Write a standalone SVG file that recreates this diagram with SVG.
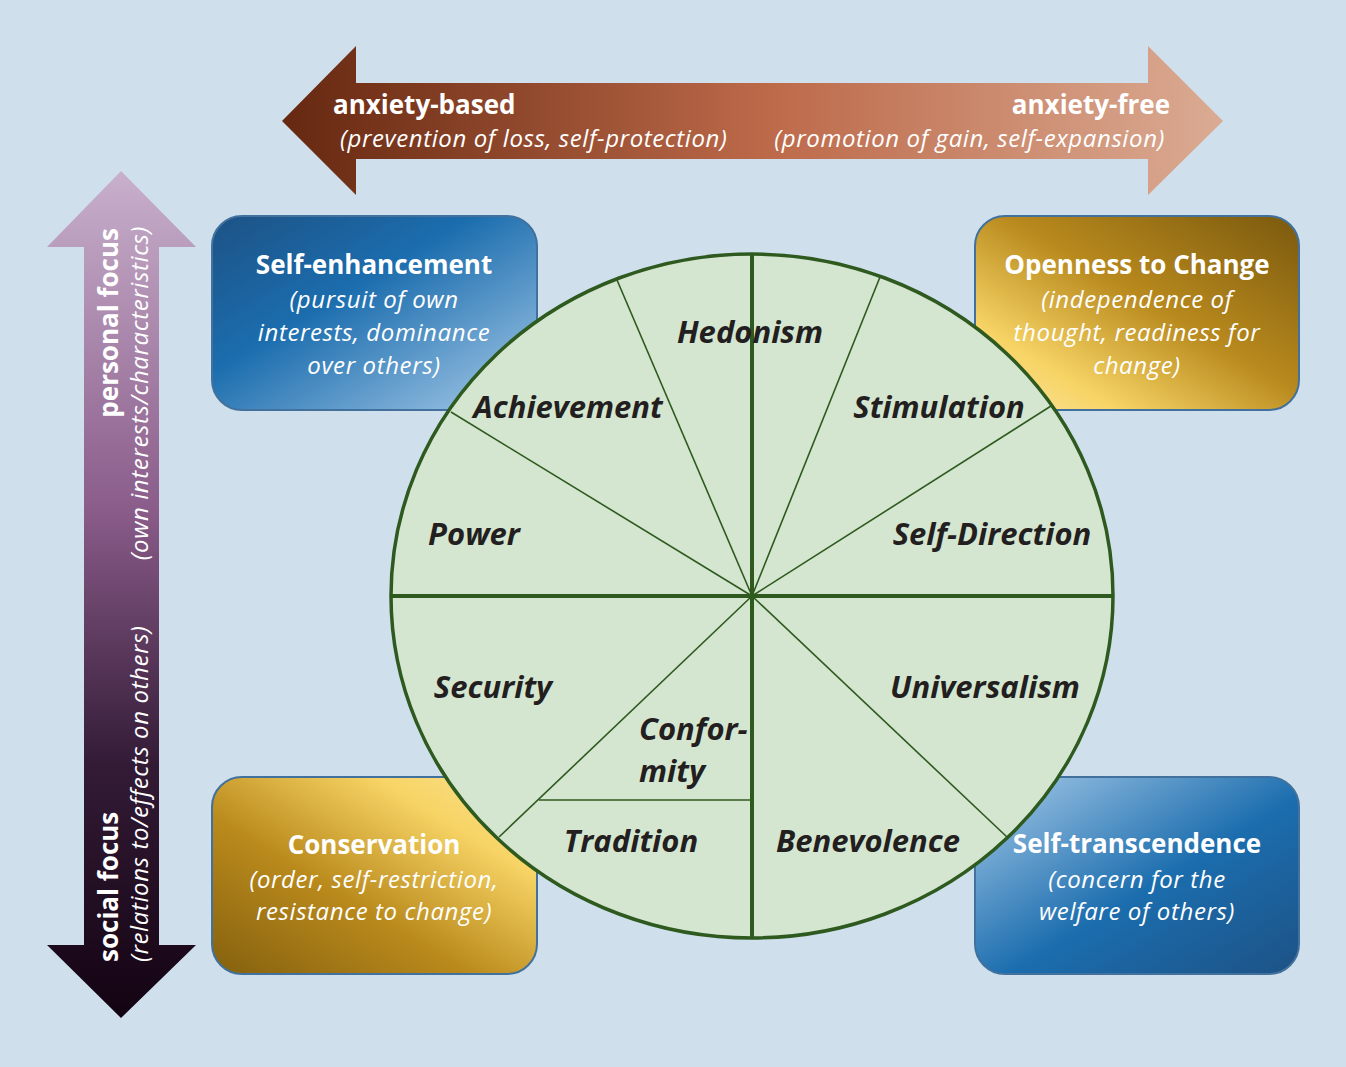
<svg xmlns="http://www.w3.org/2000/svg" width="1346" height="1067" viewBox="0 0 1346 1067">
<defs>
<style>
.t{font-family:"Open Sans",Lato,"Liberation Sans",sans-serif;fill:#fff}
.b{font-weight:bold;font-size:26px}
.i{font-style:italic;font-size:24px;letter-spacing:0.6px}
.lbl{font-family:"Open Sans",Lato,"Liberation Sans",sans-serif;font-weight:bold;font-style:italic;font-size:31px;fill:#231f20;text-anchor:middle}
.box{stroke:#41719c;stroke-width:2}
.thin{stroke:#2e5a1f;stroke-width:1.6;fill:none}
.thick{stroke:#2e5a1f;stroke-width:4;fill:none}
</style>
<linearGradient id="gH" x1="282" y1="0" x2="1223" y2="0" gradientUnits="userSpaceOnUse">
<stop offset="0" stop-color="#652810"/>
<stop offset="0.52" stop-color="#bd6a4a"/>
<stop offset="1" stop-color="#daab93"/>
</linearGradient>
<linearGradient id="gV" x1="0" y1="171" x2="0" y2="1018" gradientUnits="userSpaceOnUse">
<stop offset="0" stop-color="#c8b0cc"/>
<stop offset="0.4" stop-color="#8a5c8a"/>
<stop offset="0.7" stop-color="#331b36"/>
<stop offset="1" stop-color="#130312"/>
</linearGradient>
<linearGradient id="gBlueA" x1="0" y1="0" x2="1" y2="1">
<stop offset="0" stop-color="#1d5285"/>
<stop offset="0.4" stop-color="#1b6dae"/>
<stop offset="1" stop-color="#a9cce9"/>
</linearGradient>
<linearGradient id="gBlueB" x1="0" y1="0" x2="1" y2="1">
<stop offset="0" stop-color="#a9cce9"/>
<stop offset="0.55" stop-color="#1b6dae"/>
<stop offset="1" stop-color="#1d5285"/>
</linearGradient>
<linearGradient id="gGoldA" x1="1" y1="0" x2="0" y2="1">
<stop offset="0" stop-color="#7a590e"/>
<stop offset="0.45" stop-color="#b8891d"/>
<stop offset="0.78" stop-color="#f7d465"/>
<stop offset="1" stop-color="#fbe6aa"/>
</linearGradient>
<linearGradient id="gGoldB" x1="1" y1="0" x2="0" y2="1">
<stop offset="0" stop-color="#fbe295"/>
<stop offset="0.25" stop-color="#f7d465"/>
<stop offset="0.6" stop-color="#ba8a1c"/>
<stop offset="1" stop-color="#84600e"/>
</linearGradient>
</defs>
<rect width="1346" height="1067" fill="#cfe0ec"/>

<g id="axis-anxiety">
<polygon points="282,121 356,46 356,83 1148,83 1148,46 1223,121 1148,195 1148,159 356,159 356,195" fill="url(#gH)"/>
<text class="t b" x="333" y="114">anxiety-based</text>
<text class="t i" x="340" y="147">(prevention of loss, self-protection)</text>
<text class="t b" x="1170" y="114" text-anchor="end">anxiety-free</text>
<text class="t i" x="1165" y="147" text-anchor="end">(promotion of gain, self-expansion)</text>
</g>

<g id="axis-focus">
<polygon points="121,171 196,247 159,247 159,945 196,945 121,1018 47,945 84,945 84,247 47,247" fill="url(#gV)"/>
<text class="t b" transform="translate(118,228) rotate(-90)" text-anchor="end">personal focus</text>
<text class="t i" transform="translate(148,226) rotate(-90)" text-anchor="end">(own interests/characteristics)</text>
<text class="t b" transform="translate(118,962) rotate(-90)">social focus</text>
<text class="t i" transform="translate(148,962) rotate(-90)">(relations to/effects on others)</text>
</g>

<g id="self-enhancement">
<rect class="box" x="212" y="216" width="325" height="194" rx="30" fill="url(#gBlueA)"/>
<text class="t b" x="374" y="274" text-anchor="middle">Self-enhancement</text>
<text class="t i" x="374" y="308" text-anchor="middle">(pursuit of own</text>
<text class="t i" x="374" y="341" text-anchor="middle">interests, dominance</text>
<text class="t i" x="374" y="374" text-anchor="middle">over others)</text>
</g>

<g id="openness-to-change">
<rect class="box" x="975" y="216" width="324" height="194" rx="30" fill="url(#gGoldA)"/>
<text class="t b" x="1137" y="274" text-anchor="middle">Openness to Change</text>
<text class="t i" x="1137" y="308" text-anchor="middle">(independence of</text>
<text class="t i" x="1137" y="341" text-anchor="middle">thought, readiness for</text>
<text class="t i" x="1137" y="374" text-anchor="middle">change)</text>
</g>

<g id="conservation">
<rect class="box" x="212" y="777" width="325" height="197" rx="30" fill="url(#gGoldB)"/>
<text class="t b" x="374" y="854" text-anchor="middle">Conservation</text>
<text class="t i" x="374" y="888" text-anchor="middle">(order, self-restriction,</text>
<text class="t i" x="374" y="920" text-anchor="middle">resistance to change)</text>
</g>

<g id="self-transcendence">
<rect class="box" x="975" y="777" width="324" height="197" rx="30" fill="url(#gBlueB)"/>
<text class="t b" x="1137" y="853" text-anchor="middle">Self-transcendence</text>
<text class="t i" x="1137" y="888" text-anchor="middle">(concern for the</text>
<text class="t i" x="1137" y="920" text-anchor="middle">welfare of others)</text>
</g>

<g id="value-circle">
<ellipse cx="752" cy="596" rx="361" ry="342" fill="#d5e6d0" stroke="#2e5a1f" stroke-width="3.5"/>
</g>

<g id="connectors">
<line class="thin" x1="752" y1="596" x2="617" y2="280"/>
<line class="thin" x1="752" y1="596" x2="451" y2="412"/>
<line class="thin" x1="752" y1="596" x2="880" y2="277"/>
<line class="thin" x1="752" y1="596" x2="1051" y2="406"/>
<line class="thin" x1="752" y1="596" x2="499" y2="837"/>
<line class="thin" x1="752" y1="596" x2="1007" y2="837"/>
<line class="thin" x1="539" y1="800" x2="752" y2="800"/>
<line class="thick" x1="752" y1="254" x2="752" y2="938"/>
<line class="thick" x1="391" y1="596" x2="1113" y2="596"/>
</g>

<g id="hedonism"><text class="lbl" x="750" y="343">Hedonism</text></g>
<g id="achievement"><text class="lbl" x="568" y="418">Achievement</text></g>
<g id="stimulation"><text class="lbl" x="939" y="418">Stimulation</text></g>
<g id="power"><text class="lbl" x="474" y="545">Power</text></g>
<g id="self-direction"><text class="lbl" x="992" y="545">Self-Direction</text></g>
<g id="security"><text class="lbl" x="493" y="698">Security</text></g>
<g id="conformity"><text class="lbl" x="639" y="740" style="text-anchor:start">Confor-</text><text class="lbl" x="639" y="782" style="text-anchor:start">mity</text></g>
<g id="tradition"><text class="lbl" x="631" y="852">Tradition</text></g>
<g id="universalism"><text class="lbl" x="985" y="698">Universalism</text></g>
<g id="benevolence"><text class="lbl" x="868" y="852">Benevolence</text></g>
</svg>
